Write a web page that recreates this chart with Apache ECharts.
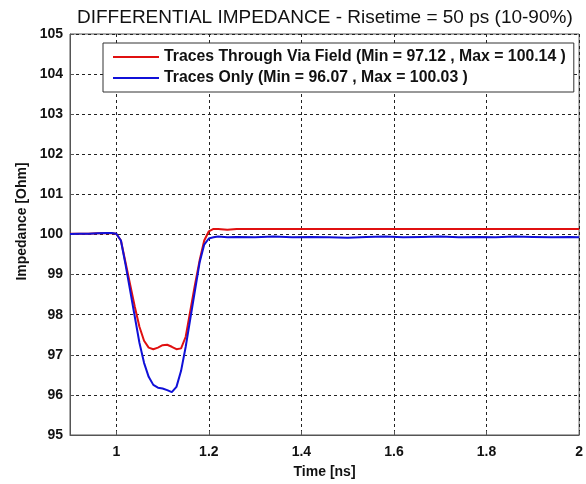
<!DOCTYPE html>
<html>
<head>
<meta charset="utf-8">
<script src="https://cdn.jsdelivr.net/npm/echarts@6/dist/echarts.min.js"></script>
<style>html,body{margin:0;padding:0;background:#fff;}#c{width:586px;height:484px;}</style>
</head>
<body>
<div id="c"></div>
<script>
var titleText = 'DIFFERENTIAL IMPEDANCE - Risetime = 50 ps (10-90%)';
var seriesNames = ['Traces Through Via Field (Min = 97.12 , Max = 100.14 )', 'Traces Only (Min = 96.07 , Max = 100.03 )'];
var xTicks = [1, 1.2, 1.4, 1.6, 1.8, 2];
var yTicks = [95, 96, 97, 98, 99, 100, 101, 102, 103, 104, 105];

var time = [0.9, 0.92, 0.94, 0.96, 0.98, 0.99, 1.0, 1.01, 1.02, 1.03, 1.04, 1.05, 1.06, 1.07, 1.08, 1.09, 1.10, 1.11, 1.12, 1.13, 1.14, 1.15, 1.16, 1.17, 1.18, 1.19, 1.20, 1.21, 1.22, 1.24, 1.26, 1.30, 1.34, 1.38, 1.42, 1.46, 1.50, 1.54, 1.58, 1.62, 1.66, 1.70, 1.74, 1.78, 1.82, 1.86, 1.90, 1.94, 1.98, 2.0];
var viaField = [100.02, 100.02, 100.02, 100.03, 100.03, 100.03, 100.02, 99.85, 99.3, 98.75, 98.2, 97.7, 97.35, 97.18, 97.14, 97.18, 97.24, 97.25, 97.2, 97.14, 97.16, 97.45, 98.1, 98.75, 99.35, 99.85, 100.08, 100.14, 100.14, 100.12, 100.14, 100.14, 100.14, 100.14, 100.14, 100.14, 100.14, 100.14, 100.14, 100.14, 100.14, 100.14, 100.14, 100.14, 100.14, 100.14, 100.14, 100.14, 100.14, 100.14];
var tracesOnly = [100.01, 100.02, 100.02, 100.03, 100.04, 100.04, 100.02, 99.85, 99.25, 98.6, 97.95, 97.3, 96.8, 96.45, 96.25, 96.18, 96.16, 96.12, 96.07, 96.2, 96.6, 97.2, 97.9, 98.6, 99.3, 99.75, 99.9, 99.93, 99.95, 99.93, 99.94, 99.93, 99.95, 99.93, 99.94, 99.93, 99.92, 99.94, 99.95, 99.93, 99.94, 99.95, 99.93, 99.94, 99.93, 99.95, 99.94, 99.93, 99.94, 99.93];

function pairs(xs, ys) { return xs.map(function (x, i) { return [x, ys[i]]; }); }

var chart = echarts.init(document.getElementById('c'), null, { renderer: 'canvas' });
var font = 'Liberation Sans, Arial, sans-serif';
var gridLine = { show: true, lineStyle: { color: '#222', type: [3, 3], width: 1 } };
chart.setOption({
  animation: false,
  backgroundColor: '#fff',
  title: {
    text: titleText, left: 72, top: 3,
    textStyle: { fontFamily: font, fontSize: 19, fontWeight: 'normal', color: '#111' }
  },
  legend: {
    orient: 'vertical', left: 103, top: 43,
    padding: [6, 8, 6, 10], itemGap: 5, itemWidth: 46, itemHeight: 2,
    backgroundColor: '#fff', borderColor: '#333', borderWidth: 1, borderRadius: 0,
    icon: 'rect',
    textStyle: { fontFamily: font, fontSize: 15.8, fontWeight: 'bold', color: '#111', padding: [1, 0, 0, 0] },
    data: seriesNames
  },
  grid: { left: 70, right: 4, top: 34, bottom: 44, show: true, borderColor: '#555', borderWidth: 1, backgroundColor: '#fff' },
  xAxis: {
    type: 'value', min: 0.9, max: 2,
    name: 'Time [ns]', nameLocation: 'middle', nameGap: 30,
    nameTextStyle: { fontFamily: font, fontSize: 14, fontWeight: 'bold', color: '#111' },
    axisLine: { show: true, lineStyle: { color: '#555' } },
    axisTick: { show: true, inside: true, length: 4, lineStyle: { color: '#555' }, customValues: xTicks },
    axisLabel: { fontFamily: font, fontSize: 14, fontWeight: 'bold', color: '#111', margin: 10, customValues: xTicks },
    splitLine: gridLine
  },
  yAxis: {
    type: 'value', min: 95, max: 105, interval: 1,
    name: 'Impedance [Ohm]', nameLocation: 'middle', nameGap: 41,
    nameTextStyle: { fontFamily: font, fontSize: 14, fontWeight: 'bold', color: '#111', padding: [0, 0, 0, 26] },
    axisLine: { show: true, lineStyle: { color: '#555' } },
    axisTick: { show: true, inside: true, length: 4, lineStyle: { color: '#555' } },
    axisLabel: { fontFamily: font, fontSize: 14, fontWeight: 'bold', color: '#111', margin: 7 },
    splitLine: gridLine
  },
  series: [
    { name: seriesNames[0], type: 'line', data: pairs(time, viaField), showSymbol: false, symbol: 'none',
      lineStyle: { color: '#e01010', width: 2 }, itemStyle: { color: '#e01010' }, z: 2 },
    { name: seriesNames[1], type: 'line', data: pairs(time, tracesOnly), showSymbol: false, symbol: 'none',
      lineStyle: { color: '#1010d8', width: 2 }, itemStyle: { color: '#1010d8' }, z: 3 }
  ]
});
</script>
</body>
</html>
